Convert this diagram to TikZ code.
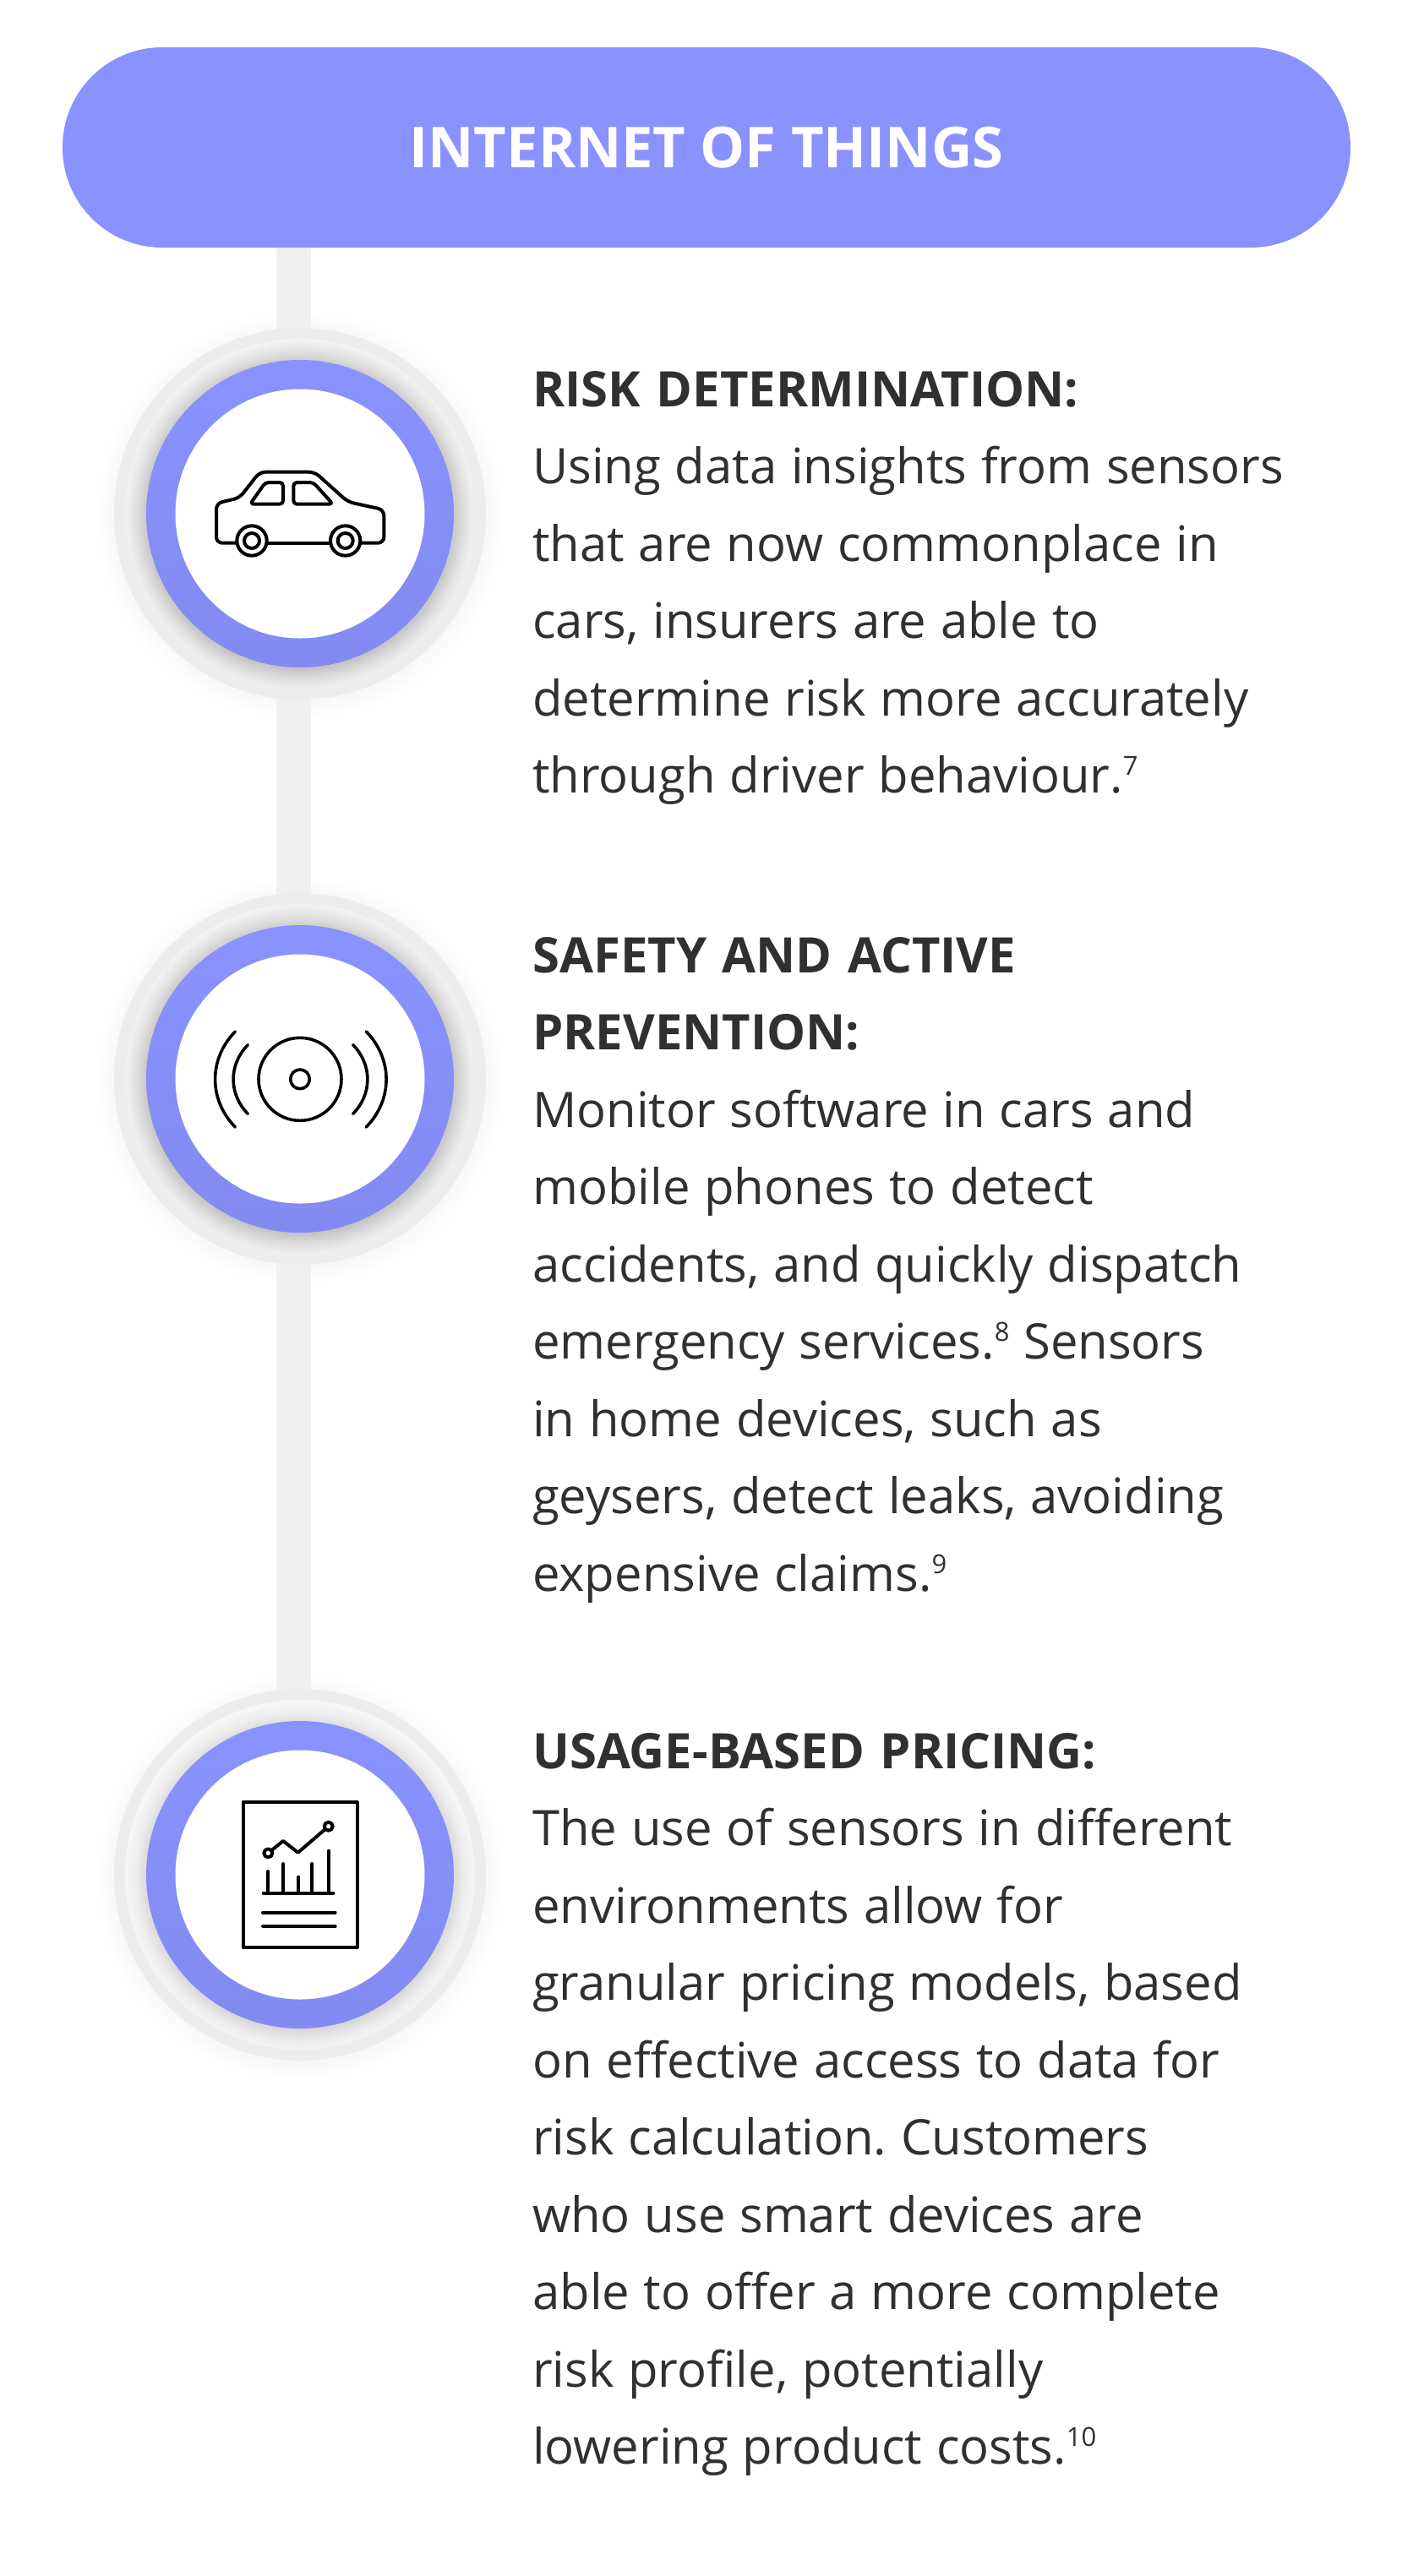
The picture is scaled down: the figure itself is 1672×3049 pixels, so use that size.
\documentclass[tikz,border=0pt]{standalone}
\usepackage{fontspec}
\setmainfont{Open Sans}[BoldFont={Open Sans Bold}]
\newfontfamily\headfont{Open Sans Bold}
\frenchspacing
\definecolor{purp}{HTML}{8A92FF}
\definecolor{ink}{HTML}{303030}
\definecolor{spinec}{HTML}{F0F0F0}
\pgfdeclareradialshading{halo}{\pgfpoint{0bp}{-0.6bp}}{color(0bp)=(black!24); color(21.6bp)=(black!24); color(23.5bp)=(black!12); color(25.6bp)=(black!3); color(50bp)=(black!3)}
\pgfdeclareradialshading{halolight}{\pgfpoint{0bp}{-0.6bp}}{color(0bp)=(black!16); color(21.6bp)=(black!16); color(23.5bp)=(black!7); color(25.6bp)=(black!2); color(50bp)=(black!2)}
\pgfdeclareradialshading{softout}{\pgfpoint{0bp}{-0.4bp}}{color(0bp)=(black!3); color(22.6bp)=(black!3); color(25bp)=(white); color(50bp)=(white)}
\newcommand\fn[1]{\raisebox{21pt}{\fontsize{31}{31}\selectfont #1}}
\newcommand\hd[1]{\textbf{\spaceskip=18.5pt\relax #1}}
\newcommand\bs{\spaceskip=16.8pt\relax\xspaceskip=16.8pt\relax}
\newcommand\softat[1]{\shade[shading=softout] (#1) circle[radius=240];}
\newcommand\ringat[2]{%
  \fill[black!7] (#1) circle[radius=220];
  \shade[shading=#2] (#1) circle[radius=207];
  \shade[top color=purp,bottom color=purp!95!black,middle color=purp!97!black] (#1) circle[radius=182];
}
\tikzset{
  x=1pt,y=-1pt,
  spineline/.style={line width=41pt,draw=spinec},
  headbox/.style={rounded corners=118pt,fill=purp,minimum width=1524pt,minimum height=237pt,inner sep=0pt,text=white,font=\fontsize{66.8}{70}\selectfont\headfont},
  whitedisc/.style={circle,fill=white,minimum size=295pt,inner sep=0pt},
  body/.style={anchor=base west,inner sep=0pt,text width=1000pt,align=left,text=ink,font=\fontsize{58}{91.5}\selectfont},
  ico/.style={line width=4pt,draw=black,line cap=round,line join=round}
}
\begin{document}
\begin{tikzpicture}
\useasboundingbox (0,0) rectangle (1672,3049);
\fill[white] (0,0) rectangle (1672,3049);
\node[headbox] (head) at (836,174.5) {INTERNET OF THINGS};
\coordinate (spx) at (347.5,293);
\coordinate (c1) at (355,608);
\coordinate (c2) at (355,1277);
\coordinate (c3) at (355,2219);
\softat{c1}
\softat{c2}
\softat{c3}
\draw[spineline] (spx) -- (spx |- c1);
\draw[spineline] (spx |- c1) -- (spx |- c2);
\draw[spineline] (spx |- c2) -- (spx |- c3);
\ringat{c1}{halo}
\ringat{c2}{halo}
\ringat{c3}{halolight}
\node[whitedisc] (n1) at (c1) {};
\node[whitedisc] (n2) at (c2) {};
\node[whitedisc] (n3) at (c3) {};
% car
\begin{scope}[shift={(120,370)},x=0.33333pt,y=-0.33333pt,ico]
\draw[rounded corners=7pt] (480,818) -- (408,818) -- (408,677) -- (490,658) -- (562,566) -- (757,566) -- (875,672) -- (1003,700) -- (1003,818) -- (921,818);
\draw (590,818) -- (810,818);
\draw (534,810) circle[radius=53];
\draw (534,810) circle[radius=27];
\draw (866,810) circle[radius=53];
\draw (866,810) circle[radius=27];
\draw[rounded corners=4pt] (528,680) -- (582,603) -- (645,603) -- (645,680) -- cycle;
\draw[rounded corners=4pt] (682,603) -- (752,603) -- (822,680) -- (682,680) -- cycle;
\end{scope}
% sensor
\begin{scope}[shift={(120,1040)},x=0.33333pt,y=-0.33333pt,ico,line width=3.6pt]
\draw (705,712) circle[radius=147];
\draw (705,712) circle[radius=34];
\draw (893,590) .. controls (962,660) and (962,765) .. (893,835);
\draw (940,543) .. controls (1035,640) and (1035,785) .. (940,882);
\draw (520,590) .. controls (451,660) and (451,765) .. (520,835);
\draw (475,543) .. controls (380,640) and (380,785) .. (475,882);
\end{scope}
% report
\begin{scope}[shift={(120,1980)},x=0.33333pt,y=-0.33333pt,ico]
\draw (503,460) rectangle (908,975);
\draw (592,640) -- (645,597) -- (698,638) -- (806,545);
\draw[fill=white] (592,640) circle[radius=15];
\draw[fill=white] (806,545) circle[radius=15];
\draw (592,705) -- (592,782);
\draw (646,678) -- (646,782);
\draw (700,725) -- (700,782);
\draw (748,678) -- (748,782);
\draw (807,632) -- (807,782);
\draw (575,782) -- (823,782);
\draw (573,851) -- (830,851);
\draw (573,900) -- (830,900);
\end{scope}
\node[body] (t1) at (630,481) {\bs\hd{RISK DETERMINATION:}\\
Using data insights from sensors\\
that are now commonplace in\\
cars, insurers are able to\\
determine risk more accurately\\
through driver behaviour.\fn{7}};
\node[body] (t2) at (630,1151) {\bs\hd{SAFETY AND ACTIVE}\\
\hd{PREVENTION:}\\
Monitor software in cars and\\
mobile phones to detect\\
accidents, and quickly dispatch\\
emergency services.\fn{8} Sensors\\
in home devices, such as\\
geysers, detect leaks, avoiding\\
expensive claims.\fn{9}};
\node[body] (t3) at (630,2093) {\bs\hd{USAGE-BASED PRICING:}\\
The use of sensors in different\\
environments allow for\\
granular pricing models, based\\
on effective access to data for\\
risk calculation. Customers\\
who use smart devices are\\
able to offer a more complete\\
risk profile, potentially\\
lowering product costs.\fn{10}};
\end{tikzpicture}
\end{document}
